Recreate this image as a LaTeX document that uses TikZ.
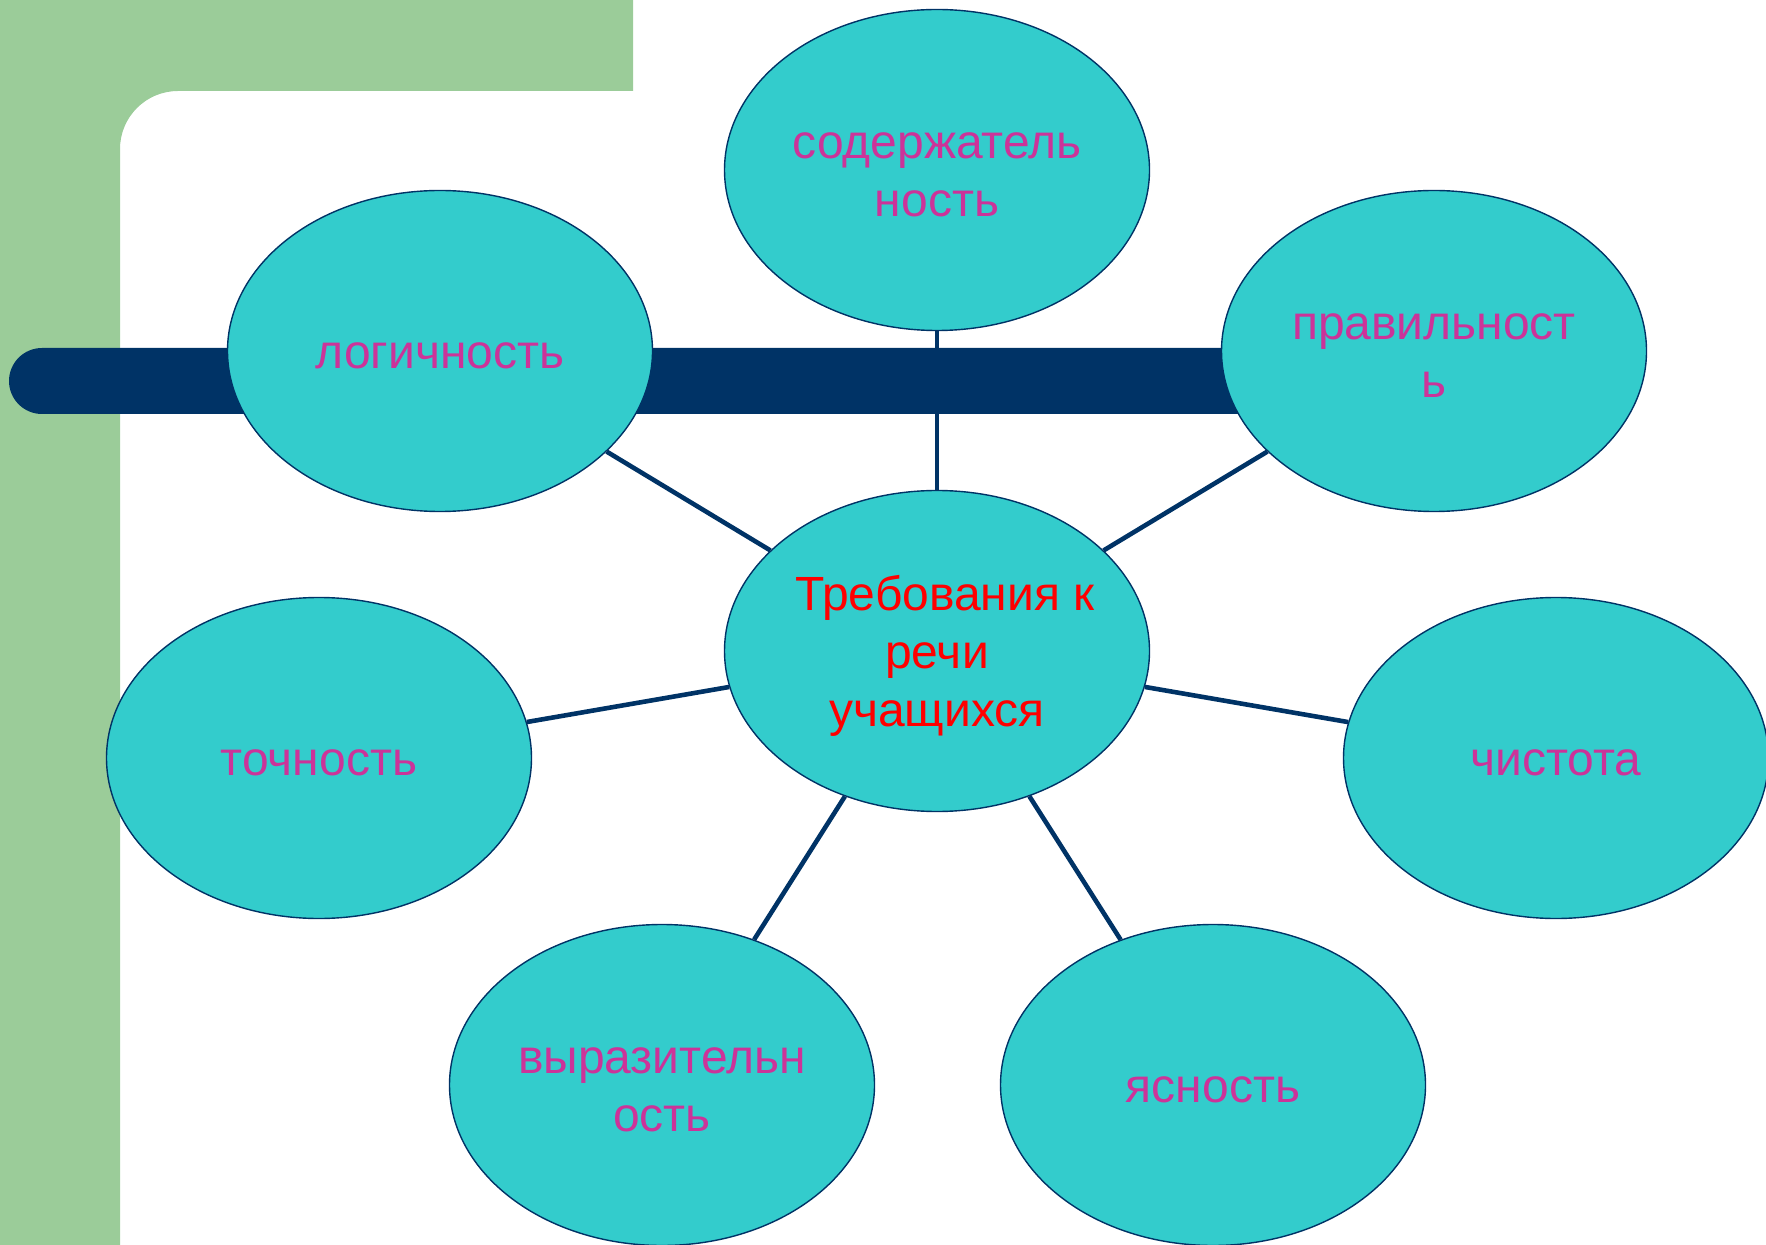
\documentclass[tikz,border=0pt]{standalone}
\usepackage{fontspec}
\setmainfont{Liberation Sans}
\usetikzlibrary{shapes.geometric,backgrounds}
\definecolor{bandgreen}{RGB}{155,204,153}
\definecolor{navy}{RGB}{0,51,102}
\definecolor{tealfill}{RGB}{51,204,204}
\definecolor{pinktext}{RGB}{204,51,153}
\newcommand{\bubbletext}[1]{\raisebox{-3pt}[\height][\depth]{\makebox[0pt]{\begin{tabular}{@{}c@{}}#1\end{tabular}}}}

\begin{document}
\begin{tikzpicture}[x=0.5pt, y=-0.5pt,
    bubble/.style={ellipse, draw=navy, line width=0.7pt, fill=tealfill,
        minimum width=212.5pt, minimum height=160.5pt, inner sep=0pt,
        text=pinktext, font=\fontsize{24}{29}\selectfont},
    spoke/.style={navy, line width=2.3pt}]

    \useasboundingbox (0,0) rectangle (1766,1245);

    %% bubbles
    \node[bubble] (content) at (937,170) {\bubbletext{содержатель\\ность}};
    \node[bubble] (logic) at (440,351) {\bubbletext{логичность}};
    \node[bubble] (correct) at (1434,351) {\bubbletext{правильност\\ь}};
    \node[bubble, text=red] (req) at (937,651) {\bubbletext{\hspace*{8pt}Требования к\\речи\\учащихся}};
    \node[bubble] (accuracy) at (319,758) {\bubbletext{точность}};
    \node[bubble] (purity) at (1556,758) {\bubbletext{чистота}};
    \node[bubble] (express) at (662,1085) {\bubbletext{выразительн\\ость}};
    \node[bubble] (clarity) at (1213,1085) {\bubbletext{ясность}};

    \begin{scope}[on background layer]
        % green frame
        \fill[bandgreen] (0,0) -- (633,0) -- (633,91) -- (178,91)
            arc[start angle=90, end angle=180, radius=29pt] -- (120,1245) -- (0,1245) -- cycle;
        % dark bar
        \fill[navy, rounded corners=16.5pt] (9,348) rectangle (1300,414);
        % spokes
        \foreach \n in {content,logic,correct,accuracy,purity,express,clarity}
            \draw[spoke] (req) -- (\n);
    \end{scope}
\end{tikzpicture}
\end{document}
